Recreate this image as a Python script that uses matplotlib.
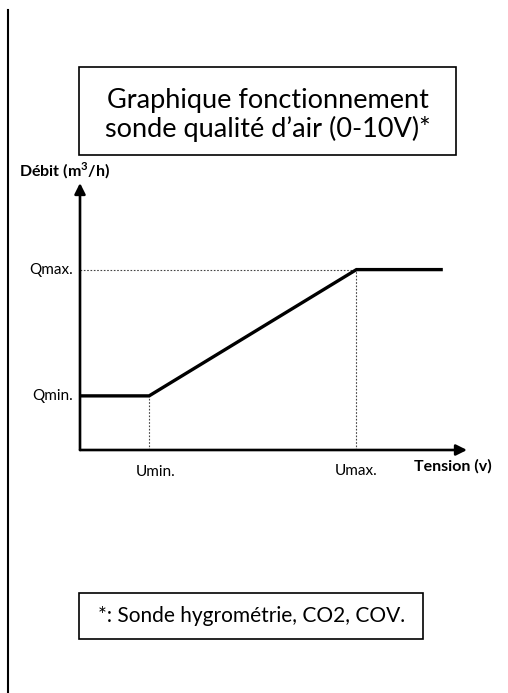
import matplotlib.pyplot as plt
from matplotlib.patches import Rectangle
from matplotlib.lines import Line2D

# control curve: flow vs. probe voltage (0-10 V)
tension = [0, 2, 8, 10.5]          # V : start, Umin, Umax, end of curve
debit = [30, 30, 100, 100]         # flow : Qmin, Qmin, Qmax, Qmax
u_min, u_max = 2, 8
q_min, q_max = 30, 100
x_end, y_end = 11.2, 148           # where the axis arrows stop

tick_labels_y = ["Qmin.", "Qmax."]
tick_labels_x = ["Umin.", "Umax."]
title = "Graphique fonctionnement\nsonde qualité d’air (0-10V)*"
footnote = "*: Sonde hygrométrie, CO2, COV."

plt.rcParams['font.family'] = ['Lato', 'DejaVu Sans']

W, H = 508, 693
fig = plt.figure(figsize=(W / 100, H / 100), dpi=100)

def fx(px):
    return px / W

def fy(py):
    return 1 - py / H

# --- chart area ---
ax = fig.add_axes([fx(80), fy(450), fx(467) - fx(80), fy(183) - fy(450)])
ax.set_xlim(0, x_end)
ax.set_ylim(0, y_end)
ax.axis('off')

# axes with arrow heads
arrow = dict(arrowstyle='-|>', lw=1.9, color='black', mutation_scale=16,
             shrinkA=0, shrinkB=0)
ax.annotate('', xy=(x_end, 0), xytext=(0, 0), arrowprops=arrow, annotation_clip=False)
ax.annotate('', xy=(0, y_end), xytext=(0, 0), arrowprops=arrow, annotation_clip=False)

# dotted guides
guide = dict(color='#444444', lw=0.8, linestyle=(0, (1.5, 1.5)))
ax.plot([0, u_max], [q_max, q_max], **guide)
ax.plot([u_min, u_min], [0, q_min], **guide)
ax.plot([u_max, u_max], [0, q_max], **guide)

# the curve
ax.plot(tension, debit, color='black', lw=2.4, solid_capstyle='butt',
        solid_joinstyle='miter')

# value labels
for q, lab in zip([q_min, q_max], tick_labels_y):
    ax.annotate(lab, xy=(0, q), xytext=(-5, 0), textcoords='offset points',
                ha='right', va='center', fontsize=11)
ax.annotate(tick_labels_x[0], xy=(u_min, 0), xytext=(5, -16), textcoords='offset points',
            ha='center', va='center', fontsize=11)
ax.annotate(tick_labels_x[1], xy=(u_max, 0), xytext=(0, -15), textcoords='offset points',
            ha='center', va='center', fontsize=11)
ax.annotate("Tension (v)", xy=(x_end, 0), xytext=(-38, -12), textcoords='offset points',
            ha='left', va='center', fontsize=11.5, fontweight='bold')
fig.text(fx(19), fy(171), "Débit (m$^\\mathregular{3}$/h)", ha='left', va='center',
         fontsize=11.5, fontweight='bold')

# --- title box ---
fig.patches.append(Rectangle((fx(79), fy(155)), fx(456) - fx(79), fy(67) - fy(155),
                             transform=fig.transFigure, fill=False, lw=1.2,
                             edgecolor='black'))
fig.text(fx(268), fy(115), title, ha='center', va='center', fontsize=19.5,
         linespacing=1.15)

# --- footnote box ---
fig.patches.append(Rectangle((fx(79), fy(639)), fx(423) - fx(79), fy(593) - fy(639),
                             transform=fig.transFigure, fill=False, lw=1.2,
                             edgecolor='black'))
fig.text(fx(252), fy(616), footnote, ha='center', va='center', fontsize=15)

# left page rule
fig.add_artist(Line2D([fx(7.5), fx(7.5)], [0, fy(10)], transform=fig.transFigure,
                      color='black', lw=1.5))

fig.savefig('out.png', dpi=100)
